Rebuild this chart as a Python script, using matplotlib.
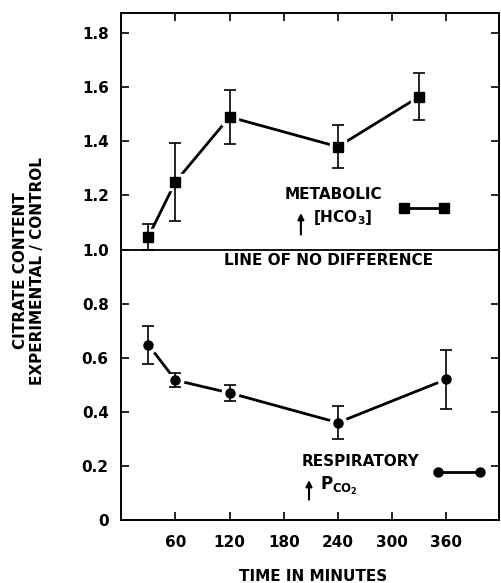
import matplotlib
matplotlib.use("Agg")
import matplotlib.pyplot as plt

plt.rcParams['font.family'] = ['DejaVu Sans']
plt.rcParams['font.weight'] = 'bold'
plt.rcParams['mathtext.default'] = 'bf'

# metabolic ([HCO3]) series, squares
metabolic_time = [30, 60, 120, 240, 330]
metabolic_ratio = [1.047, 1.25, 1.49, 1.38, 1.565]
metabolic_err = [0.047, 0.143, 0.10, 0.08, 0.087]

# respiratory (PCO2) series, circles
respiratory_time = [30, 60, 120, 240, 360]
respiratory_ratio = [0.648, 0.517, 0.47, 0.36, 0.52]
respiratory_err = [0.07, 0.025, 0.03, 0.06, 0.11]

x_ticks = [60, 120, 180, 240, 300, 360]
y_ticks = [0, 0.2, 0.4, 0.6, 0.8, 1.0, 1.2, 1.4, 1.6, 1.8]
y_tick_labels = ["0", "0.2", "0.4", "0.6", "0.8", "1.0", "1.2", "1.4", "1.6", "1.8"]

fig = plt.figure(figsize=(5.01, 5.83), dpi=100)
ax = fig.add_axes([0.242, 0.108, 0.755, 0.870])

fs = 11


def draw_series(t, v, err, marker):
    ax.plot(t, v, color='black', lw=2.0, zorder=2, solid_capstyle='butt')
    # white halo gives the small gap between line and marker
    ax.plot(t, v, ls='none', marker=marker, ms=12, color='white', zorder=3)
    ax.errorbar(t, v, yerr=err, fmt='none', ecolor='black', elinewidth=1.2,
                capsize=4, capthick=1.2, zorder=4)
    ax.plot(t, v, ls='none', marker=marker, ms=6.5, color='black', zorder=5)


draw_series(metabolic_time, metabolic_ratio, metabolic_err, 's')
draw_series(respiratory_time, respiratory_ratio, respiratory_err, 'o')

ax.axhline(1.0, color='black', lw=1.3, zorder=1)

ax.set_xlim(0, 419)
ax.set_ylim(0, 1.875)
ax.set_xticks(x_ticks)
ax.set_xticklabels([str(t) for t in x_ticks], fontsize=fs, fontweight='bold')
ax.set_yticks(y_ticks)
ax.set_yticklabels(y_tick_labels, fontsize=fs, fontweight='bold')
ax.tick_params(axis='both', direction='in', length=6, width=1.2,
               top=True, right=True)
ax.tick_params(axis='y', pad=9)
ax.tick_params(axis='x', pad=11)
for s in ax.spines.values():
    s.set_linewidth(1.4)

# legend keys
ax.plot([0.748, 0.853], [0.615, 0.615], transform=ax.transAxes, color='black',
        lw=2.0, marker='s', ms=6.5)
ax.plot([0.838, 0.948], [0.094, 0.094], transform=ax.transAxes, color='black',
        lw=2.0, marker='o', ms=6.5)

ax.text(235, 1.203, "METABOLIC", fontsize=fs, fontweight='bold', ha='center', va='center')
ax.text(245, 1.118, r"[HCO$_3$]", fontsize=fs, fontweight='bold', ha='center', va='center')
ax.annotate("", xy=(199, 1.145), xytext=(199, 1.045),
            arrowprops=dict(arrowstyle='-|>', color='black', lw=1.5,
                            mutation_scale=9))
ax.text(230, 0.961, "LINE OF NO DIFFERENCE", fontsize=fs, fontweight='bold',
        ha='center', va='center')

ax.text(265, 0.217, "RESPIRATORY", fontsize=fs, fontweight='bold', ha='center', va='center')
ax.text(220, 0.125, r"P$_{\mathbf{CO_2}}$", fontsize=fs + 1, fontweight='bold',
        ha='left', va='center')
ax.annotate("", xy=(208, 0.158), xytext=(208, 0.065),
            arrowprops=dict(arrowstyle='-|>', color='black', lw=1.5,
                            mutation_scale=9))

fig.text(0.625, 0.012, "TIME IN MINUTES", fontsize=fs, fontweight='bold',
         ha='center', va='center')
fig.text(0.058, 0.535, "CITRATE CONTENT\nEXPERIMENTAL / CONTROL", fontsize=fs,
         fontweight='bold', rotation=90, ha='center', va='center',
         multialignment='center', linespacing=1.2)

fig.savefig("out.png", dpi=100)
